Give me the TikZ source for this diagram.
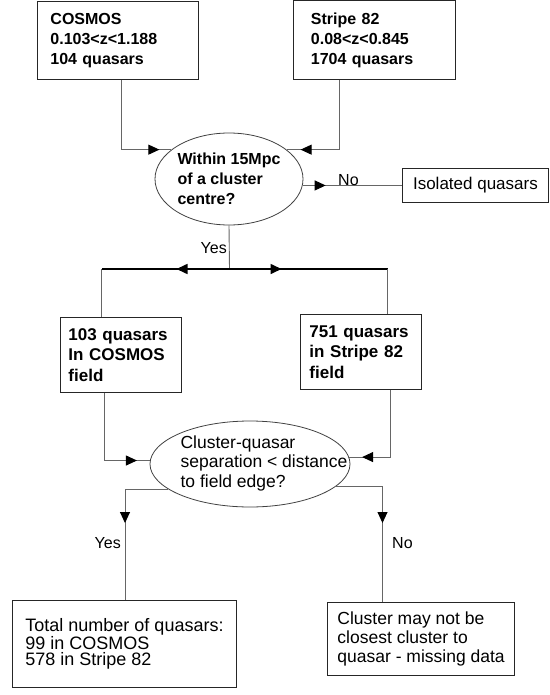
\documentclass[tikz,border=0pt]{standalone}
\usepackage{fontspec}
\setmainfont{Liberation Sans}
\usetikzlibrary{arrows.meta, shapes.geometric, decorations.markings}

\begin{document}
\begin{tikzpicture}[x=1pt, y=-1pt,
    box/.style={draw=black!85, line width=0.9pt, rectangle, anchor=north west, align=left, inner ysep=0pt},
    decision/.style={draw=black!75, line width=0.8pt, ellipse, inner ysep=0pt, align=left},
    link/.style={draw=black!60, line width=0.9pt},
    bold link/.style={draw=black, line width=1.6pt},
    midtip/.style={postaction={decorate}, decoration={markings, mark=at position #1 with {\arrow[black]{Triangle[length=11pt, width=10pt]}}}},
    lbl/.style={inner sep=0pt, font=\fontsize{16}{16}\selectfont}]

    \useasboundingbox (0,0) rectangle (549,695);

    % Source samples
    \node[box, font=\fontsize{16}{20}\selectfont\bfseries, inner xsep=13pt, text width=135pt, minimum height=78pt] (cosmos) at (37,1) {COSMOS\\0.103<z<1.188\\104 quasars};
    \node[box, font=\fontsize{16}{20}\selectfont\bfseries, inner xsep=17.5pt, text width=127pt, minimum height=79pt] (stripe) at (293,0) {Stripe 82\\0.08<z<0.845\\1704 quasars};

    % First test
    \node[decision, font=\fontsize{16}{20}\selectfont\bfseries, inner xsep=0pt, minimum width=148pt, minimum height=92pt] (near) at (229,179) {Within 15Mpc\\of a cluster\\centre?};
    \node[box, font=\fontsize{17}{17}\selectfont, inner xsep=10.6pt, minimum height=34pt] (iso) at (402,168) {Isolated quasars};

    % Quasars near clusters
    \node[box, font=\fontsize{17}{20.5}\selectfont\bfseries, inner xsep=8pt, text width=105pt, minimum height=75pt] (cosmosf) at (60,317) {103 quasars\\In COSMOS\\field};
    \node[box, font=\fontsize{17}{20.5}\selectfont\bfseries, inner xsep=9pt, text width=103pt, minimum height=75pt] (stripef) at (300,314) {751 quasars\\in Stripe 82\\field};

    % Second test
    \node[decision, font=\fontsize{17.5}{19.7}\selectfont, inner xsep=-30pt, minimum width=200pt, minimum height=86pt] (edge) at (250,464) {\hspace*{28pt}\begin{tabular}{@{}l@{}}Cluster-quasar\\separation < distance\\to field edge?\end{tabular}};

    % Outcomes
    \node[box, font=\fontsize{18}{16.5}\selectfont, inner xsep=13pt, minimum height=87pt] (total) at (12,600) {Total number of quasars:\\99 in COSMOS\\578 in Stripe 82};
    \node[box, font=\fontsize{17.5}{19}\selectfont, inner xsep=10pt, minimum height=73pt] (missing) at (327,602) {Cluster may not be\\closest cluster to\\quasar - missing data};

    % Turning points
    \coordinate (cx) at (121.5,0);
    \coordinate (sx) at (339.5,0);
    \coordinate (split) at (229.5,269);
    \coordinate (lturn) at (101.5,269);
    \coordinate (rturn) at (387.5,269);
    \coordinate (lin) at (104,0);
    \coordinate (rin) at (390,0);
    \coordinate (lout) at (125,0);
    \coordinate (rout) at (382.5,0);

    % Into first test
    \draw[link, midtip=-12pt] (cosmos.south -| cx) |- (near.153);
    \draw[link, midtip=-14pt] (stripe.south -| sx) |- (near.27);
    \draw[link, midtip=23pt] (near.355) -- (iso.west |- near.355);
    \node[lbl, anchor=base west] (no1) at (338,185) {No};

    % Yes split
    \draw[link] (near.south) -- (split);
    \draw[bold link, midtip=53pt] (split) -- (lturn);
    \draw[bold link, midtip=52pt] (split) -- (rturn);
    \draw[link] (lturn) -- (lturn |- cosmosf.north);
    \draw[link] (rturn) -- (rturn |- stripef.north);
    \node[lbl, anchor=base east] (yes1) at (227,253) {Yes};

    % Into second test
    \draw[link, midtip=-13pt] (cosmosf.south -| lin) |- (edge.178);
    \draw[link, midtip=-13pt] (stripef.south -| rin) |- (edge.4);

    % Results
    \draw[link, midtip=-77pt] (edge.197) -| (total.north -| lout);
    \draw[link, midtip=-79pt] (edge.345) -| (missing.north -| rout);
    \node[lbl, anchor=base east] (yes2) at (121,548) {Yes};
    \node[lbl, anchor=base west] (no2) at (392,548) {No};

\end{tikzpicture}
\end{document}
